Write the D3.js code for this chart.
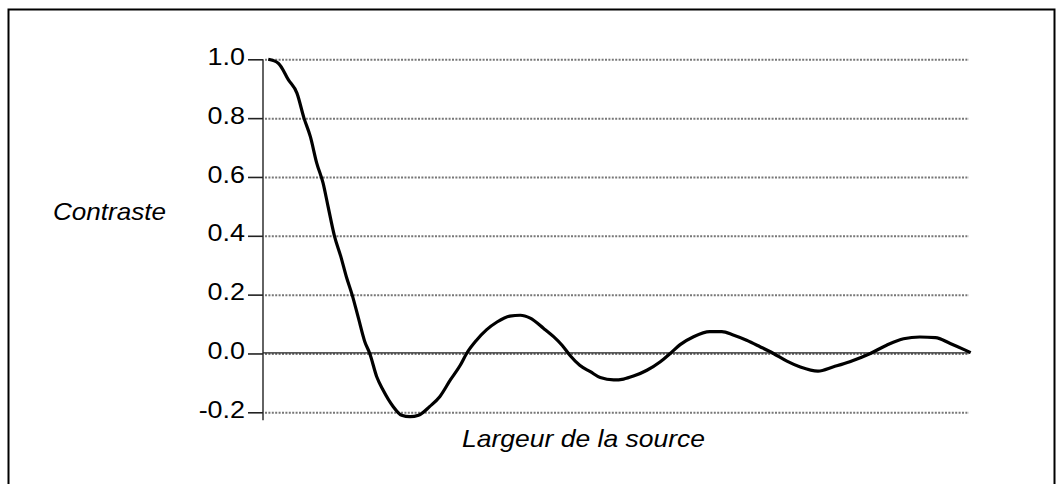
<!DOCTYPE html>
<html lang="fr">
<head>
<meta charset="UTF-8">
<title>Contraste vs largeur de la source</title>
<script src="https://d3js.org/d3.v7.min.js"></script>
<style>
  body { margin: 0; background: #fff; }
  text { font-family: "Liberation Sans", Arial, sans-serif; fill: #000; }
</style>
</head>
<body>
<svg width="1056" height="484"></svg>
<script>
// source width (arbitrary units, no ticks on the x axis) and contrast values
const sourceWidth = [0.75, 2.2, 3.6, 4.8, 5.8, 6.7, 7.6, 8.5, 9.2, 10.1, 11.0, 11.8, 12.6, 13.5, 14.4, 15.1,
  16.1, 17.0, 18.4, 19.6, 20.8, 22.0, 23.6, 25.0, 26.5, 27.9, 28.8, 30.2, 31.6, 33.1, 34.9, 36.4, 37.8,
  39.7, 41.1, 42.3, 43.4, 44.8, 46.3, 47.7, 49.6, 51.0, 52.4, 54.3, 56.2, 57.6, 59.0, 60.9, 63.2, 64.9,
  66.5, 68.4, 70.3, 72.2, 74.1, 76.0, 78.5, 80.7, 83.0, 85.9, 88.2, 90.6, 92.9, 95.1, 97.2, 99.1, 100.1];
const contrast = [1.0, 0.986, 0.93, 0.885, 0.80, 0.737, 0.647, 0.579, 0.50, 0.40, 0.33, 0.26, 0.20, 0.12, 0.04, 0.0,
  -0.08, -0.125, -0.18, -0.21, -0.215, -0.21, -0.18, -0.147, -0.09, -0.04, 0.0, 0.045, 0.08, 0.107, 0.127, 0.13, 0.12,
  0.085, 0.057, 0.028, -0.006, -0.04, -0.062, -0.082, -0.09, -0.087, -0.077, -0.057, -0.028, 0.0, 0.03, 0.057, 0.074, 0.074,
  0.063, 0.045, 0.023, 0.0, -0.026, -0.046, -0.06, -0.045, -0.028, 0.0, 0.028, 0.05, 0.056, 0.054, 0.034, 0.014, 0.003];
const yTicks = [-0.2, 0.0, 0.2, 0.4, 0.6, 0.8, 1.0];
const yLabel = "Contraste";
const xLabel = "Largeur de la source";

const svg = d3.select("svg");

// outer frame
svg.append("rect")
  .attr("x", 8.5).attr("y", 9.5)
  .attr("width", 1046).attr("height", 600)
  .attr("fill", "none")
  .attr("stroke", "#000")
  .attr("stroke-width", 2);

const x = d3.scaleLinear().domain([0, 100]).range([263, 970]);
const y = d3.scaleLinear().domain([-0.2, 1.0]).range([412.3, 59.3]);

// dotted grid lines
svg.append("g")
  .selectAll("line")
  .data(yTicks)
  .join("line")
  .attr("x1", x(0) + 2).attr("x2", 969)
  .attr("y1", d => y(d) + 0.5).attr("y2", d => y(d) + 0.5)
  .attr("stroke", "#777")
  .attr("stroke-width", 2)
  .attr("stroke-dasharray", "2,1.4");

// zero line
svg.append("line")
  .attr("x1", x(0)).attr("x2", 970)
  .attr("y1", y(0) - 0.5).attr("y2", y(0) - 0.5)
  .attr("stroke", "#222")
  .attr("stroke-width", 1.2);

// y axis
const fmt = d3.format(".1f");
const yAxis = svg.append("g")
  .attr("transform", `translate(${x(0)},0)`)
  .call(d3.axisLeft(y).tickValues(yTicks)
    .tickFormat(d => fmt(d).replace("\u2212", "-"))
    .tickSize(15).tickPadding(3));
yAxis.select(".domain")
  .attr("d", `M0,${y(1.0)}V${y(-0.2) + 8}`)
  .attr("stroke", "#222")
  .attr("stroke-width", 1.4);
yAxis.selectAll(".tick line").attr("stroke", "#222").attr("stroke-width", 1.6);
yAxis.selectAll(".tick text")
  .attr("font-family", "Liberation Sans, Arial, sans-serif")
  .attr("font-size", 23)
  .attr("fill", "#111")
  .attr("x", -18 / 1.17)
  .attr("dy", "0.22em")
  .attr("transform", "scale(1.17,1)");

// curve
const line = d3.line()
  .x((d, i) => x(sourceWidth[i]))
  .y(d => y(d))
  .curve(d3.curveMonotoneX);

svg.append("path")
  .datum(contrast)
  .attr("fill", "none")
  .attr("stroke", "#000")
  .attr("stroke-width", 3.2)
  .attr("stroke-linejoin", "round")
  .attr("d", line);

// axis titles
svg.append("text")
  .attr("x", 53).attr("y", 220)
  .attr("font-size", 24)
  .attr("font-style", "italic")
  .attr("textLength", 113)
  .attr("lengthAdjust", "spacingAndGlyphs")
  .text(yLabel);

svg.append("text")
  .attr("x", 462).attr("y", 447)
  .attr("font-size", 24)
  .attr("font-style", "italic")
  .attr("textLength", 243)
  .attr("lengthAdjust", "spacingAndGlyphs")
  .text(xLabel);
</script>
</body>
</html>
